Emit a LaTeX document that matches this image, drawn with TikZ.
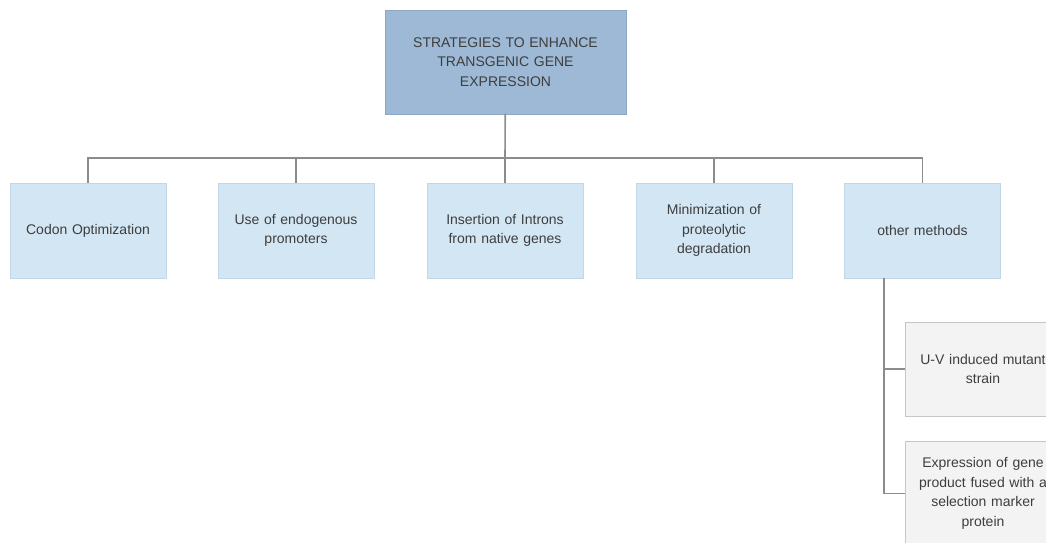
\documentclass[tikz,border=0pt]{standalone}
\usepackage{fontspec}
\setmainfont{Liberation Sans}
\usetikzlibrary{positioning}
\definecolor{RootBlue}{HTML}{9DB9D5}
\definecolor{RootEdge}{HTML}{8CA7C2}
\definecolor{LeafBlue}{HTML}{D2E6F3}
\definecolor{LeafEdge}{HTML}{C3D6E4}
\definecolor{SideGrey}{HTML}{F3F3F3}
\definecolor{SideEdge}{HTML}{C6C6C6}
\definecolor{LinkGrey}{HTML}{8C8C8C}
\definecolor{TextGrey}{HTML}{3E3E3E}

\begin{document}
\begin{tikzpicture}[x=1pt,y=-1pt,line cap=rect,
  box/.style={draw,line width=1pt,align=center,text=TextGrey,
    font=\fontsize{14}{19.5}\selectfont,inner sep=4pt},
  rootbox/.style={box,fill=RootBlue,draw=RootEdge,minimum width=241pt,
    minimum height=104pt,text width=225pt},
  leafbox/.style={box,fill=LeafBlue,draw=LeafEdge,minimum width=156pt,
    minimum height=95pt,text width=140pt},
  sidebox/.style={box,fill=SideGrey,draw=SideEdge,minimum width=156pt,
    text width=140pt},
  link/.style={draw=LinkGrey,line width=1.6pt}]
  \useasboundingbox (0,0) rectangle (1046,542);
  \clip (0,0) rectangle (1046,542);

  \node[rootbox] (root) at (505.5,62) {STRATEGIES TO ENHANCE\\TRANSGENIC GENE\\EXPRESSION};

  \node[leafbox] (codon) at (88,230.5) {Codon Optimization};
  \node[leafbox] (promo) at (296,230.5) {Use of endogenous\\promoters};
  \node[leafbox] (intron) at (505,230.5) {Insertion of Introns\\from native genes};
  \node[leafbox] (prote) at (714,230.5) {Minimization of\\proteolytic\\degradation};
  \node[leafbox] (other) at (922.5,230.5) {other methods};

  \node[sidebox,minimum height=94pt] (uv) at (983,369) {U-V induced mutant\\strain};
  \node[sidebox,minimum height=105pt] (expr) at (983,493.5) {Expression of gene\\product fused with a\\selection marker\\protein};

  % tree links
  \coordinate (bus) at (505,158);
  \draw[link] (root) -- (bus);
  \foreach \kid in {codon,promo,intron,prote,other}
    \draw[link] (bus) -| (\kid.north);

  % side branch
  \coordinate (side) at ([xshift=-38.5pt]other.south);
  \draw[link] (side) |- (uv.west);
  \draw[link] (side) |- (expr.west);
\end{tikzpicture}
\end{document}
